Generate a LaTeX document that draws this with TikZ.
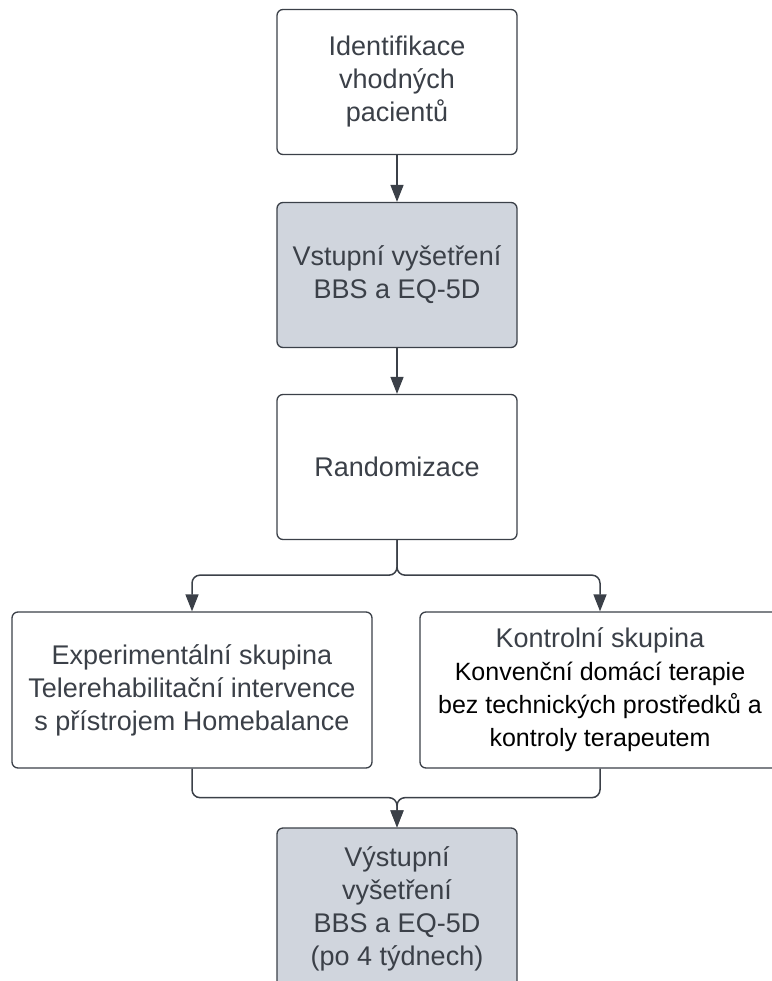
\documentclass[tikz,border=0pt]{standalone}
\usepackage{fontspec}
\setmainfont{Liberation Sans}
\usetikzlibrary{arrows.meta,positioning}
\definecolor{linka}{HTML}{3B4048}
\definecolor{sedabox}{HTML}{D0D5DD}
\newcommand{\cerny}[1]{\textcolor{black}{\fontsize{25}{31}\selectfont #1}}
\tikzset{
  krok/.style={draw=linka, line width=1.3pt, rounded corners=6pt, fill=white,
    text=linka, align=center, minimum width=240pt, minimum height=145pt,
    font=\fontsize{27}{33}\selectfont},
  mereni/.style={krok, fill=sedabox},
  skupina/.style={krok, minimum width=360pt, minimum height=156pt},
  sipka/.style={draw=linka, line width=1.5pt, -{Triangle[length=17pt,width=13pt]}},
}
\begin{document}
\begin{tikzpicture}[x=1pt, y=-1pt]
  \useasboundingbox (0,0) rectangle (771,981);
  % kroky studie
  \node[krok] (ident) at (397,82) {Identifikace\\vhodných\\pacientů};
  \node[mereni] (vstup) at (397,275) {Vstupní vyšetření\\BBS a EQ-5D};
  \node[krok] (random) at (397,467) {Randomizace};
  % skupiny po randomizaci
  \node[skupina] (exper) at (192,690)
    {Experimentální skupina\\Telerehabilitační intervence\\s přístrojem Homebalance};
  \node[skupina] (kontrol) at (600,690)
    {Kontrolní skupina\\\cerny{Konvenční domácí terapie}\\
     \cerny{bez technických prostředků a}\\\cerny{kontroly terapeutem}};
  % výstupní měření
  \node[mereni, minimum height=162pt] (vystup) at (397,909)
    {Výstupní\\vyšetření\\BBS a EQ-5D\\(po 4 týdnech)};
  % šipky
  \draw[sipka] (ident) -- (vstup);
  \draw[sipka] (vstup) -- (random);
  \draw[sipka, rounded corners=8pt] (random.south) -- ++(0,35) -| (exper.north);
  \draw[sipka, rounded corners=8pt] (random.south) -- ++(0,35) -| (kontrol.north);
  \draw[sipka, rounded corners=8pt] (exper.south) -- ++(0,29) -| (vystup.north);
  \draw[sipka, rounded corners=8pt] (kontrol.south) -- ++(0,29) -| (vystup.north);
\end{tikzpicture}
\end{document}
